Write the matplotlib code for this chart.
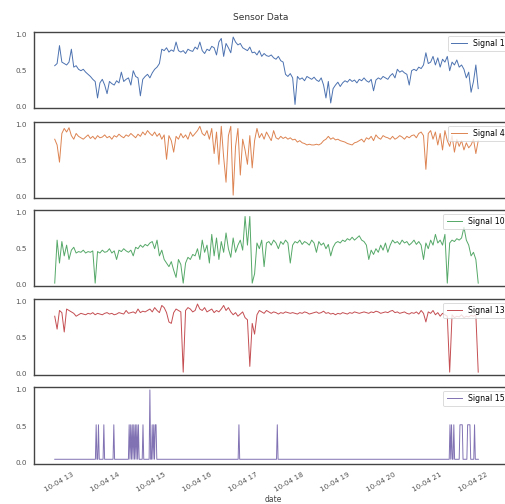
import matplotlib
matplotlib.use("Agg")
import matplotlib.pyplot as plt
import matplotlib.dates as mdates
import numpy as np
import pandas as pd

start = "2019-10-04 12:34"
step = "186s"

signal_1 = [
    0.57, 0.60, 0.85, 0.62, 0.60, 0.58, 0.62, 0.80, 0.55, 0.57,
    0.52, 0.50, 0.52, 0.48, 0.45, 0.42, 0.38, 0.35, 0.12, 0.33,
    0.38, 0.30, 0.18, 0.35, 0.32, 0.30, 0.36, 0.33, 0.48, 0.35,
    0.38, 0.40, 0.30, 0.50, 0.42, 0.40, 0.15, 0.38, 0.42, 0.45,
    0.40, 0.47, 0.52, 0.55, 0.60, 0.80, 0.78, 0.82, 0.76, 0.79,
    0.77, 0.90, 0.78, 0.76, 0.78, 0.74, 0.80, 0.78, 0.77, 0.83,
    0.80, 0.90, 0.78, 0.74, 0.80, 0.78, 0.84, 0.82, 0.72, 0.90,
    0.95, 0.70, 0.88, 0.82, 0.75, 0.97, 0.90, 0.86, 0.88, 0.82,
    0.80, 0.78, 0.83, 0.75, 0.76, 0.72, 0.78, 0.70, 0.74, 0.71,
    0.70, 0.72, 0.68, 0.66, 0.70, 0.64, 0.62, 0.45, 0.42, 0.46,
    0.40, 0.03, 0.42, 0.38, 0.40, 0.36, 0.42, 0.40, 0.38, 0.41,
    0.37, 0.35, 0.40, 0.30, 0.12, 0.35, 0.05, 0.25, 0.30, 0.34,
    0.28, 0.33, 0.36, 0.34, 0.38, 0.35, 0.37, 0.33, 0.38, 0.36,
    0.40, 0.36, 0.34, 0.38, 0.22, 0.37, 0.40, 0.38, 0.42, 0.40,
    0.38, 0.43, 0.46, 0.40, 0.52, 0.48, 0.50, 0.47, 0.45, 0.30,
    0.50, 0.52, 0.50, 0.55, 0.53, 0.58, 0.75, 0.60, 0.62, 0.70,
    0.58, 0.68, 0.55, 0.66, 0.62, 0.70, 0.50, 0.62, 0.58, 0.65,
    0.55, 0.58, 0.52, 0.40, 0.48, 0.20, 0.35, 0.58, 0.25,
]

signal_4 = [
    0.80, 0.72, 0.48, 0.88, 0.95, 0.90, 0.96, 0.85, 0.80, 0.88,
    0.84, 0.82, 0.80, 0.83, 0.86, 0.81, 0.84, 0.80, 0.85, 0.82,
    0.83, 0.86, 0.82, 0.84, 0.80, 0.85, 0.83, 0.87, 0.84, 0.82,
    0.86, 0.84, 0.88, 0.85, 0.82, 0.87, 0.84, 0.90, 0.86, 0.92,
    0.88, 0.85, 0.90, 0.84, 0.88, 0.80, 0.86, 0.52, 0.85, 0.78,
    0.62, 0.84, 0.80, 0.88, 0.82, 0.86, 0.80, 0.90, 0.84, 0.88,
    0.92, 0.98, 0.88, 0.85, 0.92, 0.80, 0.95, 0.60, 0.90, 0.45,
    0.98, 0.55, 0.20, 0.85, 0.98, 0.02, 0.70, 0.95, 0.30, 0.80,
    0.65, 0.45, 0.85, 0.40, 0.78, 0.95, 0.82, 0.88, 0.80, 0.90,
    0.84, 0.78, 0.92, 0.82, 0.80, 0.84, 0.81, 0.83, 0.80, 0.82,
    0.79, 0.80, 0.76, 0.78, 0.75, 0.74, 0.72, 0.73, 0.72, 0.72,
    0.73, 0.72, 0.74, 0.78, 0.80, 0.84, 0.80, 0.82, 0.79, 0.80,
    0.78, 0.77, 0.76, 0.74, 0.73, 0.72, 0.75, 0.76, 0.78, 0.80,
    0.76, 0.82, 0.80, 0.84, 0.78, 0.86, 0.82, 0.80, 0.85, 0.83,
    0.82, 0.80, 0.84, 0.80, 0.82, 0.85, 0.83, 0.80, 0.84, 0.82,
    0.85, 0.86, 0.82, 0.88, 0.90, 0.85, 0.38, 0.88, 0.92, 0.80,
    0.90, 0.72, 0.88, 0.65, 0.92, 0.78, 0.70, 0.85, 0.62, 0.80,
    0.70, 0.78, 0.65, 0.75, 0.68, 0.72, 0.80, 0.60, 0.78,
]

signal_10 = [
    0.02, 0.62, 0.30, 0.60, 0.40, 0.55, 0.35, 0.48, 0.52, 0.44,
    0.46, 0.45, 0.48, 0.44, 0.46, 0.45, 0.47, 0.02, 0.46, 0.44,
    0.48, 0.45, 0.46, 0.50, 0.44, 0.47, 0.35, 0.48, 0.46, 0.50,
    0.47, 0.45, 0.48, 0.40, 0.52, 0.50, 0.55, 0.52, 0.56, 0.54,
    0.58, 0.60, 0.50, 0.62, 0.40, 0.48, 0.35, 0.30, 0.25, 0.32,
    0.20, 0.10, 0.35, 0.28, 0.02, 0.30, 0.38, 0.35, 0.42, 0.40,
    0.50, 0.35, 0.62, 0.45, 0.55, 0.30, 0.70, 0.40, 0.65, 0.35,
    0.60, 0.45, 0.72, 0.50, 0.38, 0.65, 0.45, 0.55, 0.62, 0.48,
    0.95, 0.55, 0.95, 0.02, 0.15, 0.58, 0.50, 0.62, 0.25, 0.58,
    0.60, 0.55, 0.62, 0.58, 0.50, 0.60, 0.56, 0.62, 0.58, 0.30,
    0.55, 0.60, 0.58, 0.62, 0.56, 0.60, 0.58, 0.55, 0.62, 0.58,
    0.45, 0.60, 0.55, 0.58, 0.50, 0.56, 0.40, 0.52, 0.58, 0.60,
    0.58, 0.62, 0.60, 0.64, 0.62, 0.66, 0.62, 0.65, 0.68, 0.62,
    0.60, 0.55, 0.35, 0.48, 0.42, 0.50, 0.45, 0.55, 0.48, 0.58,
    0.45, 0.55, 0.62, 0.58, 0.60, 0.56, 0.62, 0.58, 0.60, 0.55,
    0.58, 0.62, 0.56, 0.60, 0.55, 0.35, 0.58, 0.50, 0.62, 0.55,
    0.70, 0.58, 0.62, 0.55, 0.70, 0.02, 0.58, 0.62, 0.60, 0.64,
    0.62, 0.65, 0.80, 0.62, 0.55, 0.40, 0.45, 0.35, 0.02,
]

signal_13 = [
    0.80, 0.62, 0.88, 0.85, 0.58, 0.90, 0.88, 0.86, 0.84, 0.80,
    0.82, 0.84, 0.83, 0.82, 0.84, 0.83, 0.85, 0.82, 0.84, 0.83,
    0.82, 0.84, 0.85, 0.83, 0.84, 0.82, 0.83, 0.85, 0.84, 0.83,
    0.88, 0.84, 0.85, 0.86, 0.84, 0.90, 0.85, 0.87, 0.86, 0.88,
    0.90, 0.86, 0.92, 0.88, 0.85, 0.95, 0.92, 0.85, 0.72, 0.70,
    0.85, 0.90, 0.88, 0.86, 0.02, 0.88, 0.92, 0.90, 0.86, 0.88,
    0.97, 0.90, 0.88, 0.92, 0.86, 0.88, 0.90, 0.85, 0.88, 0.86,
    0.90, 0.95, 0.88, 0.92, 0.86, 0.82, 0.85, 0.80, 0.83, 0.86,
    0.78, 0.75, 0.10, 0.70, 0.55, 0.82, 0.88, 0.86, 0.84, 0.88,
    0.86, 0.84, 0.86, 0.85, 0.83, 0.85, 0.84, 0.86, 0.85, 0.84,
    0.85, 0.84, 0.83, 0.85, 0.84, 0.86, 0.85, 0.83, 0.84, 0.85,
    0.86, 0.84, 0.85, 0.87, 0.84, 0.85, 0.83, 0.84, 0.82, 0.84,
    0.83, 0.85, 0.84, 0.83, 0.85, 0.84, 0.86, 0.85, 0.84, 0.85,
    0.86, 0.85, 0.84, 0.86, 0.85, 0.87, 0.86, 0.84, 0.85, 0.86,
    0.85, 0.87, 0.88, 0.85, 0.86, 0.84, 0.85, 0.86, 0.84, 0.83,
    0.85, 0.84, 0.86, 0.83, 0.88, 0.84, 0.72, 0.86, 0.84, 0.88,
    0.82, 0.85, 0.80, 0.84, 0.82, 0.80, 0.02, 0.82, 0.78, 0.80,
    0.79, 0.82, 0.78, 0.80, 0.79, 0.81, 0.80, 0.82, 0.02,
]

# signal 15 is mostly flat with short pulses: minutes after start, value
s15_minutes = [
    0, 53, 54, 55, 56, 57, 58, 63, 64, 65, 76, 77, 78,
    96, 97, 98, 99, 100, 101, 102, 103, 104, 105, 106, 107, 108, 109, 110,
    114, 115, 116,
    123, 124, 125, 126, 127, 128, 129, 130, 131, 132, 133,
    239, 240, 241, 289, 290, 291,
    514, 515, 516, 517, 518, 519, 520, 521,
    527, 528, 531, 532, 537, 538, 541, 542, 546, 547, 548, 552,
]
s15_values = [
    0.045, 0.045, 0.52, 0.045, 0.045, 0.52, 0.045, 0.045, 0.52, 0.045, 0.045, 0.52, 0.045,
    0.045, 0.52, 0.045, 0.52, 0.045, 0.52, 0.045, 0.52, 0.045, 0.52, 0.045, 0.52, 0.045, 0.52, 0.045,
    0.045, 0.52, 0.045,
    0.045, 1.0, 0.045, 0.045, 0.52, 0.045, 0.52, 0.045, 0.52, 0.52, 0.045,
    0.045, 0.52, 0.045, 0.045, 0.52, 0.045,
    0.045, 0.52, 0.045, 0.52, 0.045, 0.045, 0.52, 0.045,
    0.045, 0.52, 0.52, 0.045, 0.045, 0.52, 0.52, 0.045, 0.045, 0.52, 0.045, 0.045,
]

labels = ["Signal 1", "Signal 4", "Signal 10", "Signal 13", "Signal 15"]
colors = ["#4C72B0", "#DD8452", "#55A868", "#C44E52", "#8172B3"]

t = pd.date_range(start, periods=len(signal_1), freq=step)
t15 = pd.Timestamp(start) + pd.to_timedelta(s15_minutes, unit="min")
series = [
    (t, signal_1), (t, signal_4), (t, signal_10), (t, signal_13), (t15, s15_values),
]

fig = plt.figure(figsize=(5.05, 5.04), dpi=100)
W, H = 505, 504
left, right = 34, 512
boxes = [(32, 108), (122, 198), (210, 286), (299, 375), (387, 464)]

axes = []
for k, (top, bot) in enumerate(boxes):
    rect = [left / W, 1 - bot / H, (right - left) / W, (bot - top) / H]
    ax = fig.add_axes(rect, sharex=axes[0] if axes else None)
    x, y = series[k]
    ax.plot(x, y, color=colors[k], lw=0.7, label=labels[k])
    ax.set_ylim(-0.02, 1.04)
    ax.set_yticks([0.0, 0.5, 1.0])
    ax.set_yticklabels(["0.0", "0.5", "1.0"])
    ax.tick_params(length=0, labelsize=5.2, colors="#555555", pad=5)
    for s in ax.spines.values():
        s.set_color("#444444")
        s.set_linewidth(1.0)
    leg = ax.legend(loc="upper right", fontsize=5.6, frameon=True, fancybox=True)
    leg.get_frame().set_edgecolor("#cccccc")
    leg.get_frame().set_linewidth(0.6)
    axes.append(ax)

axes[0].set_xlim(t[0] - pd.Timedelta(minutes=27), t[-1] + pd.Timedelta(minutes=44))
axes[-1].xaxis.set_major_locator(mdates.HourLocator())
axes[-1].xaxis.set_major_formatter(mdates.DateFormatter("%m-%d %H"))
for ax in axes[:-1]:
    plt.setp(ax.get_xticklabels(), visible=False)
for lbl in axes[-1].get_xticklabels():
    lbl.set_rotation(30)
    lbl.set_ha("right")
axes[-1].set_xlabel("date", fontsize=5.5, color="#444444", labelpad=2)

fig.text(261 / W, 1 - 17 / H, "Sensor Data", ha="center", va="center",
         fontsize=6.5, color="#333333")

fig.savefig("out.png", dpi=100)
